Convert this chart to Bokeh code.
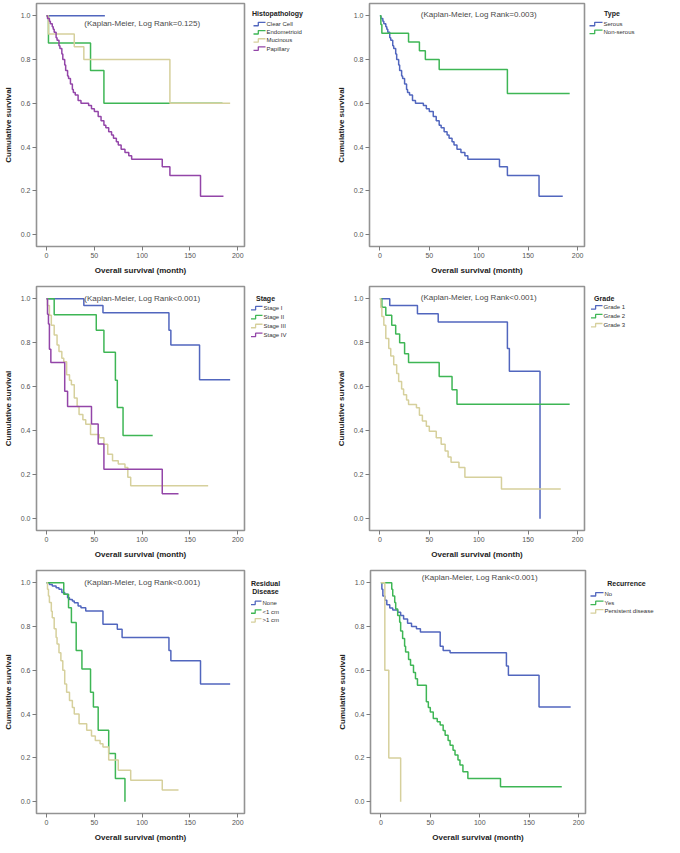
from bokeh.plotting import figure
from bokeh.models import Label, Range1d, FixedTicker, PrintfTickFormatter
from bokeh.core.properties import value
from bokeh.layouts import column, row
from bokeh.embed import file_html
from bokeh.resources import INLINE

# ---------------- data (months, survival after each drop, last follow-up) ----------------
# Panel 1: Histopathology
clear_t = []
clear_s = []
clear_end = 61
endo_t = [2, 46, 60]
endo_s = [0.875, 0.75, 0.60]
endo_end = 184
muc_t = [2, 29, 39, 129]
muc_s = [0.917, 0.858, 0.80, 0.60]
muc_end = 192
pap_t = [1, 3, 4, 6, 7, 8, 10, 11, 13, 14, 16, 17, 19, 20, 22, 23, 25, 27, 28, 30, 33, 36, 44, 47,
         50, 54, 57, 60, 62, 65, 68, 70, 73, 75, 78, 82, 86, 89, 121, 129, 161]
pap_s = [0.988, 0.975, 0.963, 0.95, 0.938, 0.925, 0.90, 0.888, 0.863, 0.85, 0.825, 0.80, 0.775, 0.75,
         0.725, 0.713, 0.688, 0.663, 0.65, 0.638, 0.613, 0.60, 0.59, 0.575, 0.563, 0.54, 0.52, 0.50,
         0.488, 0.47, 0.455, 0.44, 0.425, 0.41, 0.39, 0.375, 0.36, 0.345, 0.31, 0.27, 0.175]
pap_end = 185

# Panel 2: Type
serous_t = pap_t
serous_s = pap_s
serous_end = 185
nonser_t = [1, 2, 29, 40, 46, 60, 129]
nonser_s = [0.96, 0.92, 0.88, 0.84, 0.80, 0.755, 0.645]
nonser_end = 192

# Panel 3: Stage
st1_t = [39, 59, 128, 130, 160]
st1_s = [0.97, 0.937, 0.857, 0.79, 0.632]
st1_end = 192
st2_t = [8, 52, 60, 72, 74, 80]
st2_s = [0.928, 0.857, 0.757, 0.63, 0.505, 0.378]
st2_end = 111
st3_t = [1, 3, 5, 8, 11, 13, 16, 18, 21, 24, 26, 29, 32, 34, 38, 41, 46, 55, 60, 64, 69, 75, 82, 85, 88]
st3_s = [0.97, 0.925, 0.88, 0.835, 0.79, 0.76, 0.73, 0.714, 0.654, 0.63, 0.609, 0.549, 0.51, 0.474,
         0.45, 0.429, 0.383, 0.368, 0.338, 0.293, 0.263, 0.248, 0.233, 0.188, 0.15]
st3_end = 169
st4_t = [1, 2, 3, 4.5, 19, 22, 47, 54, 60, 121]
st4_s = [0.93, 0.885, 0.77, 0.71, 0.58, 0.51, 0.43, 0.34, 0.225, 0.113]
st4_end = 138

# Panel 4: Grade
gr1_t = [10, 38, 59, 129, 131, 162]
gr1_s = [0.97, 0.932, 0.895, 0.774, 0.67, 0.0]
gr1_end = 162
gr2_t = [2, 6, 12, 16, 20, 25, 29, 60, 73, 78]
gr2_s = [0.962, 0.925, 0.88, 0.84, 0.80, 0.75, 0.71, 0.647, 0.586, 0.52]
gr2_end = 192
gr3_t = [1, 2, 4, 6, 9, 11, 14, 17, 19, 22, 24, 27, 29, 37, 40, 43, 47, 50, 57, 62, 66, 69, 72, 80, 86, 123]
gr3_s = [0.96, 0.92, 0.88, 0.82, 0.774, 0.74, 0.70, 0.66, 0.624, 0.59, 0.564, 0.54, 0.519, 0.504,
         0.47, 0.444, 0.42, 0.398, 0.368, 0.338, 0.308, 0.28, 0.256, 0.233, 0.188, 0.135]
gr3_end = 183

# Panel 5: Residual disease
none_t = [3, 6, 10, 13, 16, 19, 22, 24, 27, 29, 33, 36, 41, 59, 74, 79, 128, 130, 161]
none_s = [0.992, 0.985, 0.977, 0.97, 0.955, 0.947, 0.932, 0.924, 0.917, 0.909, 0.894, 0.886, 0.871,
          0.81, 0.788, 0.75, 0.69, 0.644, 0.538]
none_end = 192
lt1_t = [18, 23, 26, 31, 37, 46, 49, 54, 65, 72, 82]
lt1_s = [0.947, 0.886, 0.818, 0.69, 0.606, 0.50, 0.432, 0.326, 0.22, 0.106, 0.0]
lt1_end = 82
gt1_t = [1, 2, 3, 5, 6, 8, 10, 11, 13, 15, 17, 19, 21, 24, 27, 29, 34, 42, 47, 51, 56, 59, 65, 75, 88, 121]
gt1_s = [0.97, 0.94, 0.91, 0.87, 0.84, 0.79, 0.75, 0.72, 0.68, 0.644, 0.60, 0.538, 0.50, 0.462, 0.43,
         0.40, 0.356, 0.326, 0.30, 0.28, 0.265, 0.25, 0.19, 0.144, 0.098, 0.053]
gt1_end = 138

# Panel 6: Recurrence
no_t = [1, 2, 4, 6, 9, 12, 17, 20, 23, 27, 31, 36, 40, 60, 63, 70, 127, 129, 160]
no_s = [0.97, 0.94, 0.92, 0.90, 0.885, 0.875, 0.865, 0.85, 0.835, 0.815, 0.80, 0.79, 0.775, 0.71,
        0.69, 0.68, 0.62, 0.578, 0.433]
no_end = 192
yes_t = [11, 12, 14, 15, 17, 19, 20, 22, 24, 25, 28, 30, 33, 35, 37, 46, 48, 50, 53, 57, 60, 63, 65,
         68, 70, 73, 75, 78, 80, 83, 88, 121]
yes_s = [0.97, 0.94, 0.91, 0.88, 0.85, 0.82, 0.78, 0.745, 0.71, 0.684, 0.65, 0.623, 0.59, 0.562, 0.532,
         0.456, 0.43, 0.41, 0.38, 0.365, 0.35, 0.325, 0.304, 0.28, 0.258, 0.235, 0.213, 0.19, 0.167,
         0.137, 0.106, 0.068]
yes_end = 183
pers_t = [4, 8, 20]
pers_s = [0.6, 0.2, 0.0]
pers_end = 20

x_ticks = [0, 50, 100, 150, 200]
y_ticks = [0.0, 0.2, 0.4, 0.6, 0.8, 1.0]

BLUE = "#5166BE"
GREEN = "#3EB655"
BEIGE = "#D6D09C"
PURPLE = "#9345A8"
FONT = "Liberation Sans"


def km(times, surv, end):
    xs = [0] + list(times) + [end]
    ys = [1.0] + list(surv) + [surv[-1] if surv else 1.0]
    return xs, ys


def plot_panel(h, left, top, fw, fh, series, note, note_y):
    w = left + fw + 2
    p = figure(width=w, height=h, output_backend="svg", toolbar_location=None,
               x_range=Range1d(-10.5, 207), y_range=Range1d(-0.054, 1.056),
               min_border_left=left, min_border_top=top,
               min_border_right=2, min_border_bottom=h - top - fh,
               background_fill_color="white", border_fill_color="white")
    p.outline_line_color = "#939393"
    p.outline_line_width = 1.6
    p.xgrid.visible = False
    p.ygrid.visible = False
    p.xaxis.ticker = FixedTicker(ticks=x_ticks)
    p.yaxis.ticker = FixedTicker(ticks=y_ticks)
    p.yaxis.formatter = PrintfTickFormatter(format="%.1f")
    p.xaxis.axis_label = "Overall survival (month)"
    p.yaxis.axis_label = "Cumulative survival"
    for ax in (p.xaxis[0], p.yaxis[0]):
        ax.axis_line_color = None
        ax.major_tick_out = 4
        ax.major_tick_in = 0
        ax.major_tick_line_color = "#7a7a7a"
        ax.minor_tick_line_color = None
        ax.major_label_text_font = FONT
        ax.major_label_text_font_size = "7px"
        ax.major_label_text_color = "#555555"
        ax.major_label_standoff = 2
        ax.axis_label_text_font = FONT
        ax.axis_label_text_font_size = "8px"
        ax.axis_label_text_font_style = "bold"
        ax.axis_label_text_color = "#222222"
        ax.axis_label_standoff = 5
    for (t, s, end, name, col) in series:
        xs, ys = km(t, s, end)
        p.step(xs, ys, mode="after", line_color=col, line_width=1.5)
    p.add_layout(Label(x=100, y=note_y, text=note, text_align="center", text_baseline="middle",
                       text_font=FONT, text_font_size="8px", text_color="#4a4a4a"))
    return p


def legend_panel(w, h, series, titles, icon_x0, icon_x1, text_x, item_ys):
    lg = figure(width=w, height=h, output_backend="svg", toolbar_location=None,
                x_range=Range1d(0, w), y_range=Range1d(h, 0),
                x_axis_location=None, y_axis_location=None,
                min_border=0, background_fill_color="white", border_fill_color="white")
    lg.outline_line_color = None
    lg.xgrid.visible = False
    lg.ygrid.visible = False
    for (txt, cx, cy) in titles:
        lg.text(x=[cx], y=[cy], text=[txt], text_align="center", text_baseline="middle",
                text_font=value(FONT), text_font_size=value("7px"), text_font_style="bold",
                text_color="#222222")
    mid = icon_x0 + (icon_x1 - icon_x0) * 0.4
    for (item, y) in zip(series, item_ys):
        name, col = item[3], item[4]
        lg.line([icon_x0, mid, mid, icon_x1], [y + 2, y + 2, y - 2, y - 2], line_color=col, line_width=1.3)
        lg.text(x=[text_x], y=[y], text=[name], text_align="left", text_baseline="middle",
                text_font=value(FONT), text_font_size=value("6px"), text_color="#333333")
    return lg


COLW = 332

s1 = [(clear_t, clear_s, clear_end, "Clear Cell", BLUE),
      (endo_t, endo_s, endo_end, "Endometrioid", GREEN),
      (muc_t, muc_s, muc_end, "Mucinous", BEIGE),
      (pap_t, pap_s, pap_end, "Papillary", PURPLE)]
s2 = [(serous_t, serous_s, serous_end, "Serous", BLUE),
      (nonser_t, nonser_s, nonser_end, "Non-serous", GREEN)]
s3 = [(st1_t, st1_s, st1_end, "Stage I", BLUE),
      (st2_t, st2_s, st2_end, "Stage II", GREEN),
      (st3_t, st3_s, st3_end, "Stage III", BEIGE),
      (st4_t, st4_s, st4_end, "Stage IV", PURPLE)]
s4 = [(gr1_t, gr1_s, gr1_end, "Grade 1", BLUE),
      (gr2_t, gr2_s, gr2_end, "Grade 2", GREEN),
      (gr3_t, gr3_s, gr3_end, "Grade 3", BEIGE)]
s5 = [(none_t, none_s, none_end, "None", BLUE),
      (lt1_t, lt1_s, lt1_end, "<1 cm", GREEN),
      (gt1_t, gt1_s, gt1_end, ">1 cm", BEIGE)]
s6 = [(no_t, no_s, no_end, "No", BLUE),
      (yes_t, yes_s, yes_end, "Yes", GREEN),
      (pers_t, pers_s, pers_end, "Persistent disease", BEIGE)]

H1, H2, H3 = 282, 281, 282

p1 = plot_panel(H1, 29, 3, 215, 243, s1, "(Kaplan-Meier, Log Rank=0.125)", 0.965)
l1 = legend_panel(COLW - p1.width, H1, s1, [("Histopathology", 31, 11.6)], 7, 19, 20,
                  [23.8, 33.4, 42.9, 52.3])
p2 = plot_panel(H1, 37, 3, 215, 243, s2, "(Kaplan-Meier, Log Rank=0.003)", 1.005)
l2 = legend_panel(COLW - p2.width, H1, s2, [("Type", 25.5, 11.6)], 3, 16, 17, [23.8, 33])
p3 = plot_panel(H2, 29, 4, 215, 244, s3, "(Kaplan-Meier, Log Rank<0.001)", 1.0)
l3 = legend_panel(COLW - p3.width, H2, s3, [("Stage", 19, 13.5)], 4.5, 16, 17, [25, 35.3, 45.5, 55.7])
p4 = plot_panel(H2, 37, 4, 215, 244, s4, "(Kaplan-Meier, Log Rank<0.001)", 1.008)
l4 = legend_panel(COLW - p4.width, H2, s4, [("Grade", 17.7, 14.2)], 4.5, 16, 17, [24, 34.2, 44.6])
p5 = plot_panel(H3, 29, 7, 215, 244, s5, "(Kaplan-Meier, Log Rank<0.001)", 1.0)
l5 = legend_panel(COLW - p5.width, H3, s5, [("Residual", 19, 14.6), ("Disease", 19, 23.8)], 4.5, 15, 16,
                  [37.6, 47.6, 57.8])
p6 = plot_panel(H3, 38, 6, 215, 244, s6, "(Kaplan-Meier, Log Rank<0.001)", 1.026)
l6 = legend_panel(COLW - p6.width, H3, s6, [("Recurrence", 39, 15.2)], 3, 16, 17, [27.6, 37.6, 47.5])

layout = column(row(p1, l1, p2, l2), row(p3, l3, p4, l4), row(p5, l5, p6, l6))
open("out.html", "w").write(file_html(layout, INLINE))
